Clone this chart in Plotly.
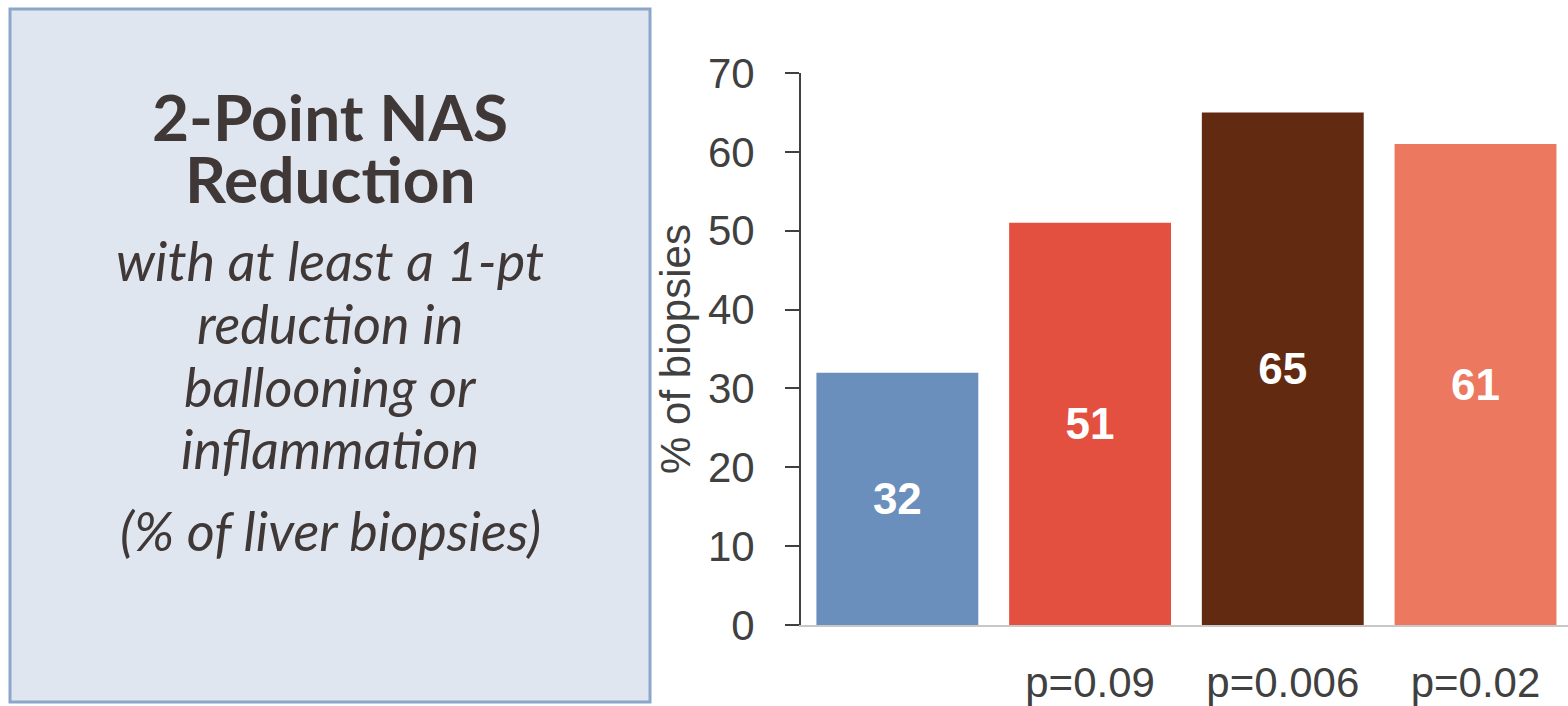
import plotly.graph_objects as go

# Share of liver biopsies with a 2-point NAS reduction, by treatment group
p_labels = ["", "p=0.09", "p=0.006", "p=0.02"]
values = [32, 51, 65, 61]
bar_colors = ["#6A8FBC", "#E45040", "#632A12", "#EC785F"]
y_ticks = [0, 10, 20, 30, 40, 50, 60, 70]

# Caption panel text, one entry per line
title_lines = ["2-Point NAS", "Reduction"]
subtitle_lines = ["with at least a 1-pt", "reduction in", "ballooning or", "inflammation",
                  "(% of liver biopsies)"]

W, H = 1568, 706
TEXT = "#3F3836"
AXIS = "#404040"

fig = go.Figure()
fig.add_trace(go.Bar(
    x=list(range(len(values))),
    y=values,
    marker=dict(color=bar_colors, line=dict(width=0)),
    text=[str(v) for v in values],
    textposition="inside",
    insidetextanchor="middle",
    textfont=dict(family="Liberation Sans", size=44, color="white", weight="bold"),
    hoverinfo="skip",
))

# Left-hand caption panel
fig.add_shape(
    type="rect", xref="paper", yref="paper",
    x0=10 / W, x1=650 / W, y0=1 - 702 / H, y1=1 - 9 / H,
    line=dict(color="#8CA6C9", width=3), fillcolor="#DFE6F0", layer="below",
)

caption_x = 330 / W
title_y = [116, 178]
for line, yc in zip(title_lines, title_y):
    fig.add_annotation(
        text=f"<b>{line}</b>", xref="paper", yref="paper",
        x=caption_x, y=1 - yc / H, xanchor="center", yanchor="middle", showarrow=False,
        font=dict(family="Lato", size=64, color=TEXT),
    )
subtitle_y = [261, 323, 386, 449, 530]
for line, yc in zip(subtitle_lines, subtitle_y):
    fig.add_annotation(
        text=f"<i>{line}</i>", xref="paper", yref="paper",
        x=caption_x, y=1 - yc / H, xanchor="center", yanchor="middle", showarrow=False,
        font=dict(family="Lato", size=54, color=TEXT),
    )

fig.update_layout(
    width=W, height=H,
    margin=dict(l=0, r=0, t=0, b=0),
    paper_bgcolor="white", plot_bgcolor="white",
    showlegend=False, bargap=0.16,
    font=dict(family="Liberation Sans", color=AXIS),
    xaxis=dict(
        domain=[801 / W, 1], range=[-0.5, 3.48],
        tickvals=list(range(len(p_labels))), ticktext=p_labels,
        showgrid=False, zeroline=False, ticks="",
        showline=True, linecolor="#C8C8C8", linewidth=2,
        tickfont=dict(size=42, color=AXIS), ticklabelstandoff=20,
        automargin=False,
    ),
    yaxis=dict(
        domain=[1 - 625 / H, 1 - 73 / H], range=[0, 70],
        tickvals=y_ticks, showgrid=False, zeroline=False,
        ticks="outside", ticklen=14, tickwidth=2, tickcolor=AXIS,
        showline=True, linecolor=AXIS, linewidth=2,
        tickfont=dict(size=42, color=AXIS), ticklabelstandoff=22,
        title=dict(text="% of biopsies", font=dict(size=42, color=AXIS), standoff=4),
        automargin=False,
    ),
)

fig.write_html("out.html")
